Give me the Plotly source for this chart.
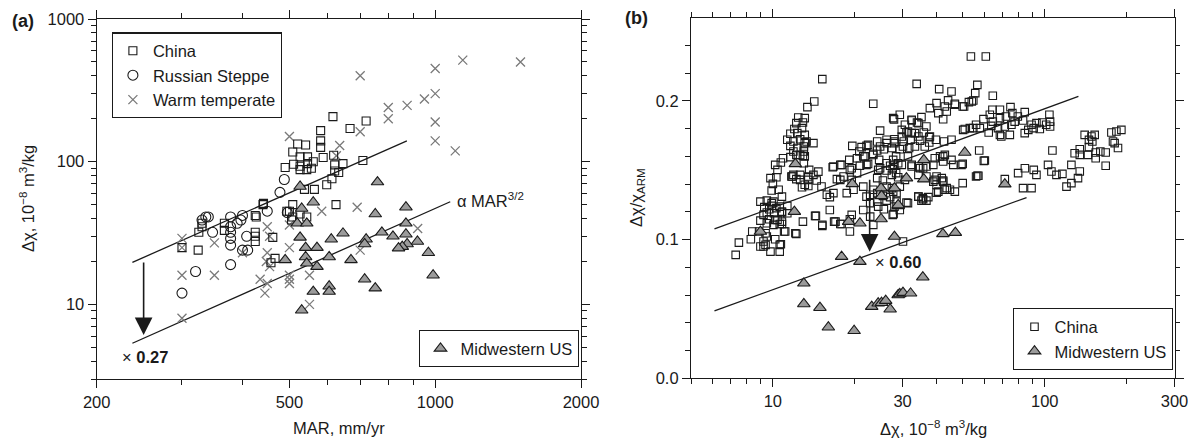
import plotly.graph_objects as go
import math

# ---------------- Panel (a) data ----------------
china_a_mar = [300, 324, 325, 330, 367, 367, 425, 425, 425, 425, 462, 467, 458, 442, 500, 508, 505,
               615, 667, 580, 580, 580, 520, 540, 508, 526, 545, 490, 510, 526, 545, 560, 526, 543, 555,
               587, 617, 620, 645, 620, 632, 612, 597, 537, 563, 508, 494, 526, 543, 624, 427, 441, 720,
               709, 330]
china_a_dchi = [25, 24, 32, 35, 37, 33, 42, 32, 30, 27.6, 29.5, 21, 19.6, 51, 45, 50, 39,
                207, 171, 165, 140, 126, 133, 131, 117, 108, 108, 91, 96, 93, 97, 100, 88, 88, 90,
                107, 111, 95, 97, 86, 84, 76, 69, 64, 64, 41, 45, 43, 41, 50, 41, 50, 193,
                102, 37]

steppe_mar = [300, 320, 378, 330, 340, 347, 378, 378, 378, 378, 378, 390, 397, 400, 408, 400, 410,
              450, 495, 488, 478, 336]
steppe_dchi = [12, 17, 19, 39, 41, 32, 41, 35, 32, 29, 26, 37, 39, 42, 30, 24, 24,
               45, 44, 75, 61, 41]

warm_mar = [700, 1000, 1140, 1500, 1000, 950, 875, 800, 800, 1000, 700, 1000, 1100, 500, 635, 625,
            690, 583, 920, 700, 550, 550, 500, 500, 500, 500, 500, 450, 455, 450, 448, 455, 435, 450,
            445, 350, 350, 300, 300, 300, 400, 300]
warm_dchi = [400, 450, 515, 500, 300, 275, 248, 240, 200, 190, 162, 140, 119, 150, 130, 110,
             48, 45, 34, 24, 16, 10, 36, 25, 16, 15, 14, 35, 30, 23, 20, 18.4, 15, 14,
             12, 27, 16, 29, 16, 8, 23, 25]

midwest_a_mar = [760, 526, 560, 530, 752, 870, 519, 543, 870, 776, 818, 870, 875, 855, 840, 919, 968,
                 990, 720, 715, 645, 610, 570, 540, 526, 490, 540, 543, 570, 604, 670, 715, 752, 560,
                 604, 604, 530]
midwest_a_dchi = [72, 67, 52, 47, 43, 48, 37, 37, 37, 32, 30, 31, 26.5, 25.4, 24.8, 27.6, 23,
                  16, 28.6, 26.5, 31.5, 28.6, 25, 25, 29.5, 20.5, 21.5, 19.4, 18.4, 21.5, 20.5, 15, 13, 12.3,
                  13.4, 12.3, 9.1]

fit_a_mar = [237, 874]
fit_a_dchi = [19.7, 140]
fit_a_low_mar = [237, 1074]
fit_a_low_dchi = [5.34, 52.4]

# ---------------- Panel (b) data ----------------
china_b = [
    (13.4, 0.1955), (12.4, 0.188), (13.1, 0.1876), (12.2, 0.184), (12.9, 0.1844), (12.0, 0.1797), (12.8, 0.1804),
    (11.6, 0.1763), (12.3, 0.1768), (13.1, 0.1755), (11.3, 0.172), (11.9, 0.1707), (12.6, 0.1724), (13.1, 0.1696),
    (11.6, 0.1676), (12.3, 0.166), (13.0, 0.1635), (11.9, 0.1635), (12.6, 0.161), (10.9, 0.1587), (11.6, 0.1595),
    (13.1, 0.16), (10.2, 0.1539), (10.7, 0.1556), (10.4, 0.1503), (9.8, 0.1443), (10.3, 0.145), (11.7, 0.1455),
    (12.2, 0.1436), (12.8, 0.1378), (13.5, 0.1387), (10.0, 0.1402), (9.9, 0.1354), (10.5, 0.1359), (10.8, 0.131),
    (9.0, 0.1274), (9.5, 0.1281), (10.05, 0.1274), (9.3, 0.1234), (9.9, 0.1243), (10.6, 0.1238), (11.3, 0.1243),
    (9.5, 0.1195), (10.1, 0.119), (10.8, 0.1195), (9.7, 0.1147), (10.4, 0.1142), (9.5, 0.1118), (10.05, 0.1106),
    (10.6, 0.1113), (12.9, 0.113), (8.4, 0.1058), (9.4, 0.1046), (11.1, 0.1058), (12.2, 0.1041), (7.5, 0.0978),
    (8.3, 0.1003), (9.0, 0.095), (9.4, 0.0962), (10.2, 0.1003), (10.7, 0.0967), (9.8, 0.0913), (10.6, 0.0913),
    (7.3, 0.089),
    (15.2, 0.2157), (14.2, 0.1996), (33.8, 0.2123), (23.4, 0.198), (40.9, 0.2085), (45.4, 0.2068), (56.5, 0.2116),
    (55.5, 0.2056), (40.0, 0.1984), (42.9, 0.196), (44.1, 0.2004), (46.7, 0.198), (49.9, 0.196), (53.9, 0.1996),
    (27.9, 0.1867), (24.8, 0.1786), (32.4, 0.1859), (33.9, 0.1844), (35.2, 0.1883), (37.8, 0.1948), (40.6, 0.1912),
    (42.3, 0.1868), (43.6, 0.1924), (50.1, 0.1791), (53.0, 0.1804), (55.9, 0.1828), (29.8, 0.1791), (31.0, 0.1772),
    (33.3, 0.1768), (35.9, 0.1772), (37.6, 0.1739),
    (26.2, 0.172), (28.0, 0.1724), (30.3, 0.1707), (32.1, 0.172), (34.8, 0.1714), (37.6, 0.170), (39.8, 0.172),
    (42.6, 0.1707), (45.4, 0.172),
    (19.6, 0.1676), (21.2, 0.1667), (22.4, 0.1683), (24.2, 0.1707),
    (24.2, 0.1642), (25.6, 0.1652), (27.4, 0.166), (29.3, 0.1652), (31.7, 0.166),
    (19.1, 0.1575), (20.4, 0.1587), (21.8, 0.160), (23.4, 0.161),
    (17.9, 0.1539), (19.5, 0.1515), (20.9, 0.1532), (22.4, 0.1546), (16.6, 0.1522),
    (24.8, 0.1515), (27.0, 0.1532), (28.9, 0.1551), (32.4, 0.1539), (34.8, 0.1515), (36.7, 0.1527),
    (39.4, 0.1587), (42.3, 0.160), (45.4, 0.1575), (49.4, 0.1539),
    (34.3, 0.1467), (36.7, 0.1455), (39.4, 0.1431), (42.3, 0.1426), (49.9, 0.1407), (55.9, 0.1455),
    (18.2, 0.1455), (17.2, 0.1436), (19.2, 0.1503), (20.4, 0.1479), (24.2, 0.1443), (25.4, 0.1426),
    (27.4, 0.1467), (28.9, 0.145), (30.6, 0.1431),
    (14.1, 0.1467), (13.5, 0.1431), (14.5, 0.1426), (11.9, 0.1467), (12.6, 0.1431), (13.1, 0.1395),
    (15.1, 0.1383), (15.8, 0.1323), (16.7, 0.1335),
    (22.8, 0.1323), (24.2, 0.1335), (25.4, 0.1315), (27.0, 0.1306), (22.8, 0.1263), (24.2, 0.1274),
    (26.2, 0.1281), (28.0, 0.1238),
    (31.4, 0.1263), (34.3, 0.131), (35.6, 0.1299), (37.3, 0.1306), (40.6, 0.1346), (43.6, 0.1371), (46.7, 0.1346),
    (16.2, 0.1214), (14.3, 0.1171), (15.2, 0.1106), (17.0, 0.113), (17.9, 0.1113), (19.2, 0.1147),
    (19.2, 0.1058), (12.1, 0.1046), (11.0, 0.1058), (27.8, 0.1185), (22.8, 0.1166), (23.4, 0.1106),
    (24.4, 0.1238), (25.6, 0.1219), (30.1, 0.0986),
    (53.5, 0.232), (60.7, 0.232), (64.4, 0.2037), (54.6, 0.2003), (52.6, 0.1991), (46.7, 0.1972),
    (50.5, 0.196), (64.2, 0.1936), (68.4, 0.1936), (74.8, 0.1955), (76.0, 0.1912), (84.4, 0.1919), (104, 0.19),
    (72.0, 0.1888), (68.4, 0.1876), (64.4, 0.1851), (62.8, 0.19), (59.5, 0.1869), (79.6, 0.1888), (77.5, 0.1851),
    (83.2, 0.1859), (93.2, 0.184), (97.9, 0.1844), (104.6, 0.1851), (101.2, 0.1828), (95.9, 0.1797),
    (89.4, 0.1828), (87.0, 0.1791), (84.4, 0.1768), (91.0, 0.1804), (104.6, 0.1815), (75.4, 0.1828),
    (71.3, 0.1815), (67.3, 0.1804), (63.6, 0.182), (62.2, 0.1772), (68.4, 0.1755), (74.4, 0.1755),
    (69.2, 0.1743), (57.7, 0.1804), (54.6, 0.1804), (50.8, 0.1797),
    (140.2, 0.1755), (148.5, 0.1743), (152.6, 0.1755), (145.4, 0.1719), (149.6, 0.1707), (175.8, 0.1772),
    (183.4, 0.1779), (191.3, 0.1791), (178.2, 0.1707), (185.9, 0.166), (180.7, 0.1696), (134.5, 0.1652),
    (128.8, 0.1623), (145.4, 0.1667), (134.5, 0.1611), (144.2, 0.1611), (153.9, 0.1628), (160.1, 0.1635),
    (167.5, 0.1628), (153.9, 0.1587), (167.5, 0.1532), (106.7, 0.1642), (125.3, 0.1539), (134.5, 0.1491),
    (132.5, 0.1443), (125.3, 0.1407), (120.2, 0.1382), (102.8, 0.1539), (105.8, 0.1491), (110.4, 0.1467),
    (116.1, 0.1474), (79.8, 0.1479), (84.5, 0.1515), (91.1, 0.1503), (93.2, 0.1467), (83.2, 0.1371),
    (89.4, 0.1371), (71.3, 0.1436), (56.5, 0.146), (59.7, 0.1568), (57.4, 0.1642), (49.9, 0.1546),
    (8.9, 0.1058), (9.24, 0.0986), (9.5, 0.1022), (9.24, 0.095), (10.6, 0.0962), (10.8, 0.1113), (11.3, 0.119),
    (14.4, 0.1171), (15.2, 0.1099), (16.8, 0.113), (17.7, 0.1113), (19.5, 0.1178), (21.5, 0.1214),
    (9.9, 0.1263), (10.3, 0.1227), (10.8, 0.1202), (9.7, 0.1219), (9.24, 0.1178), (9.0, 0.1137), (10.2, 0.1142),
    (10.8, 0.113),
    (13.3, 0.1707), (14.1, 0.1696), (13.0, 0.1671), (12.9, 0.1604), (12.2, 0.1611), (13.0, 0.1551),
    (13.5, 0.1455), (14.7, 0.149), (13.6, 0.1503), (12.6, 0.1467), (11.8, 0.1455),
    (20.8, 0.1635), (22.1, 0.1676), (21.5, 0.160), (23.4, 0.1618), (24.8, 0.1671), (26.2, 0.1696), (28.0, 0.1707),
    (24.6, 0.1575), (26.2, 0.1551), (27.7, 0.1575), (16.7, 0.1527), (17.7, 0.1539), (22.1, 0.1539),
    (24.4, 0.1503), (26.2, 0.1498), (27.6, 0.1508), (17.7, 0.1431), (19.5, 0.1431), (16.2, 0.1306),
    (18.7, 0.1335), (19.8, 0.1359), (21.5, 0.1382), (22.1, 0.131), (23.4, 0.1359), (24.8, 0.1335),
    (26.2, 0.1382), (27.7, 0.1346),
    (27.7, 0.1876), (28.0, 0.1696), (29.8, 0.1743), (30.1, 0.1671), (32.4, 0.1864), (34.3, 0.184),
    (36.7, 0.1815), (37.8, 0.1743), (36.2, 0.1671), (33.3, 0.1671), (32.4, 0.1768), (34.3, 0.1743),
    (28.4, 0.160), (27.9, 0.1539), (28.4, 0.1479), (29.8, 0.1539), (31.4, 0.160), (32.4, 0.1527),
    (34.3, 0.1527), (35.7, 0.1515), (38.9, 0.1539), (41.2, 0.160), (42.9, 0.1611), (42.3, 0.1563),
    (46.1, 0.1539), (40.0, 0.1455), (41.8, 0.1443), (42.3, 0.1418), (38.9, 0.1418), (40.0, 0.1395),
    (42.9, 0.1359), (44.8, 0.1359), (40.0, 0.1339), (34.3, 0.131), (35.7, 0.1291), (31.0, 0.1267),
    (28.5, 0.1274), (27.4, 0.1371), (29.3, 0.1382), (28.5, 0.1335), (29.3, 0.1214), (27.6, 0.1178),
    (60.2, 0.157), (57.0, 0.146), (29.3, 0.19), (30.6, 0.1828), (31.4, 0.1779), (35.2, 0.1281), (36.7, 0.1281),
]
china_b_dchi = [p[0] for p in china_b]
china_b_ratio = [p[1] for p in china_b]

midwest_b_dchi = [12.1, 12.0, 9.0, 13.0, 19.6, 35.9, 31.0, 35.9, 25.0, 28.0, 25.1, 28.9, 50.8, 19.0, 20.9,
                  25.0, 28.0, 42.2, 46.9, 17.9, 20.9, 13.0, 14.9, 16.0, 19.9, 23.1, 24.4, 25.1, 26.0, 27.0,
                  28.9, 35.6, 29.3, 30.1, 32.1, 28.9, 71.3]
midwest_b_ratio = [0.1546, 0.1202, 0.1058, 0.0685, 0.1402, 0.1575, 0.1443, 0.1436, 0.1371, 0.1371, 0.1315,
                   0.1243, 0.1628, 0.113, 0.1118, 0.1149, 0.1022, 0.1041, 0.105, 0.0877, 0.0841, 0.0536,
                   0.0509, 0.0368, 0.0343, 0.0517, 0.0541, 0.0545, 0.056, 0.0498, 0.0601, 0.0729, 0.0608,
                   0.0618, 0.0613, 0.125, 0.140]

fit_b_dchi = [6.1, 133]
fit_b_ratio = [0.1077, 0.2032]
fit_b_low_dchi = [6.1, 85.7]
fit_b_low_ratio = [0.0486, 0.1303]

# ---------------- Figure ----------------
OFF = 8                      # page body margin of the html
W, H = 1196 - OFF, 439 - OFF
FONT = "Liberation Sans, Arial, Helvetica, sans-serif"
INK = "#1a1a1a"
GRAY_X = "#7a7a7a"
TRI_FILL = "#9b9b9b"
FS = 16.5

def PX(px):
    return (px - OFF) / W

def PY(py):
    return 1 - (py - OFF) / H

fig = go.Figure()

sq = dict(symbol="square-open", size=8, color=INK, line=dict(width=1.1, color=INK))
circ = dict(symbol="circle-open", size=10, color=INK, line=dict(width=1.1, color=INK))
cross = dict(symbol="x-thin-open", size=9, color=GRAY_X, line=dict(width=1.3, color=GRAY_X))
tri = dict(symbol="triangle-up", size=11, color=TRI_FILL, line=dict(width=1.1, color=INK))

# panel (a)
fig.add_trace(go.Scatter(x=fit_a_mar, y=fit_a_dchi, mode="lines", line=dict(color=INK, width=1.3),
                         showlegend=False, xaxis="x", yaxis="y"))
fig.add_trace(go.Scatter(x=fit_a_low_mar, y=fit_a_low_dchi, mode="lines", line=dict(color=INK, width=1.3),
                         showlegend=False, xaxis="x", yaxis="y"))
fig.add_trace(go.Scatter(x=warm_mar, y=warm_dchi, mode="markers", marker=cross, name="Warm temperate",
                         legend="legend", legendrank=3, xaxis="x", yaxis="y"))
fig.add_trace(go.Scatter(x=china_a_mar, y=china_a_dchi, mode="markers", marker=sq, name="China",
                         legend="legend", legendrank=1, xaxis="x", yaxis="y"))
fig.add_trace(go.Scatter(x=steppe_mar, y=steppe_dchi, mode="markers", marker=circ, name="Russian Steppe",
                         legend="legend", legendrank=2, xaxis="x", yaxis="y"))
fig.add_trace(go.Scatter(x=midwest_a_mar, y=midwest_a_dchi, mode="markers", marker=tri, name="Midwestern US",
                         legend="legend2", xaxis="x", yaxis="y"))

# panel (b)
sq_b = dict(sq, size=7.5)
fig.add_trace(go.Scatter(x=china_b_dchi, y=china_b_ratio, mode="markers", marker=sq_b, name="China",
                         legend="legend3", legendrank=1, xaxis="x2", yaxis="y2"))
fig.add_trace(go.Scatter(x=fit_b_dchi, y=fit_b_ratio, mode="lines", line=dict(color=INK, width=1.3),
                         showlegend=False, xaxis="x2", yaxis="y2"))
fig.add_trace(go.Scatter(x=fit_b_low_dchi, y=fit_b_low_ratio, mode="lines", line=dict(color=INK, width=1.3),
                         showlegend=False, xaxis="x2", yaxis="y2"))
fig.add_trace(go.Scatter(x=midwest_b_dchi, y=midwest_b_ratio, mode="markers", marker=tri, name="Midwestern US",
                         legend="legend3", legendrank=2, xaxis="x2", yaxis="y2"))

axis_common = dict(showline=True, linecolor=INK, linewidth=1.2, mirror="ticks", ticks="outside",
                   ticklen=8, tickwidth=1.1, tickcolor=INK, showgrid=False, zeroline=False,
                   tickfont=dict(family=FONT, size=FS, color=INK), automargin=False)

def minor(vals):
    return dict(tickvals=vals, ticks="outside", ticklen=4.5, tickwidth=1.0, tickcolor=INK, showgrid=False)

leg_common = dict(xanchor="left", yanchor="top", bgcolor="white", bordercolor=INK, borderwidth=1.2,
                  font=dict(family=FONT, size=FS, color=INK), itemwidth=30)

fig.update_layout(
    width=W, height=H, margin=dict(l=0, r=0, t=0, b=0),
    paper_bgcolor="white", plot_bgcolor="white",
    font=dict(family=FONT, size=FS, color=INK),
    xaxis=dict(axis_common, type="log", domain=[PX(96.7), PX(581)], anchor="y",
               range=[math.log10(200), math.log10(2000)],
               tickvals=[200, 500, 1000, 2000], ticktext=["200", "500", "1000", "2000"],
               minor=minor([300, 400, 600, 700, 800, 900])),
    yaxis=dict(axis_common, type="log", domain=[PY(379), PY(19)], anchor="x",
               range=[math.log10(3), 3],
               tickvals=[10, 100, 1000], ticktext=["10", "100", "1000"],
               minor=minor([3, 4, 5, 6, 7, 8, 9, 20, 30, 40, 50, 60, 70, 80, 90,
                            200, 300, 400, 500, 600, 700, 800, 900])),
    xaxis2=dict(axis_common, type="log", domain=[PX(691), PX(1174.5)], anchor="y2",
                range=[math.log10(5), math.log10(300)],
                tickvals=[10, 30, 100, 300], ticktext=["10", "30", "100", "300"],
                minor=minor([5, 6, 7, 8, 9, 20, 40, 50, 60, 70, 80, 90, 200])),
    yaxis2=dict(axis_common, type="linear", domain=[PY(378.3), PY(17.7)], anchor="x2",
                range=[0, 0.26], tickvals=[0, 0.1, 0.2], ticktext=["0.0", "0.1", "0.2"],
                minor=minor([0.02, 0.04, 0.06, 0.08, 0.12, 0.14, 0.16, 0.18, 0.22, 0.24])),
    legend=dict(leg_common, x=PX(111.7), y=PY(32.3)),
    legend2=dict(leg_common, x=PX(419.3), y=PY(330)),
    legend3=dict(leg_common, x=PX(1013.3), y=PY(308.3)),
)

ann = []
def text(px, py, s, size=FS, xanchor="center", yanchor="middle", angle=0):
    ann.append(dict(x=PX(px), y=PY(py), xref="paper", yref="paper", text=s, showarrow=False,
                    xanchor=xanchor, yanchor=yanchor, textangle=angle,
                    font=dict(family=FONT, size=size, color=INK)))

text(23, 21, "<b>(a)</b>", size=18)
text(637, 18, "<b>(b)</b>", size=18)
text(338.8, 428, "MAR, mm/yr")
text(933, 428, "Δχ, 10<sup>−8</sup> m<sup>3</sup>/kg")
text(27, 199, "Δχ, 10<sup>−8</sup> m<sup>3</sup>/kg", angle=-90)
text(637, 197, "Δχ/χ<sub>ARM</sub>", angle=-90)
text(455, 200, "α MAR<sup>3/2</sup>", xanchor="left")
text(120, 357, "× <b>0.27</b>", xanchor="left")
text(873, 262, "× <b>0.60</b>", xanchor="left")

# arrows (head at x,y; tail at ax,ay, all in axis units)
ann.append(dict(x=math.log10(250), y=math.log10(6.1), ax=math.log10(250), ay=math.log10(20.1),
                xref="x", yref="y", axref="x", ayref="y", showarrow=True, text="",
                arrowhead=2, arrowsize=2.2, arrowwidth=1.6, arrowcolor=INK, standoff=0))
ann.append(dict(x=math.log10(22.7), y=0.0913, ax=math.log10(22.7), ay=0.1443,
                xref="x2", yref="y2", axref="x2", ayref="y2", showarrow=True, text="",
                arrowhead=2, arrowsize=2.2, arrowwidth=1.6, arrowcolor=INK, standoff=0))

fig.update_layout(annotations=ann)
fig.write_html("out.html")
